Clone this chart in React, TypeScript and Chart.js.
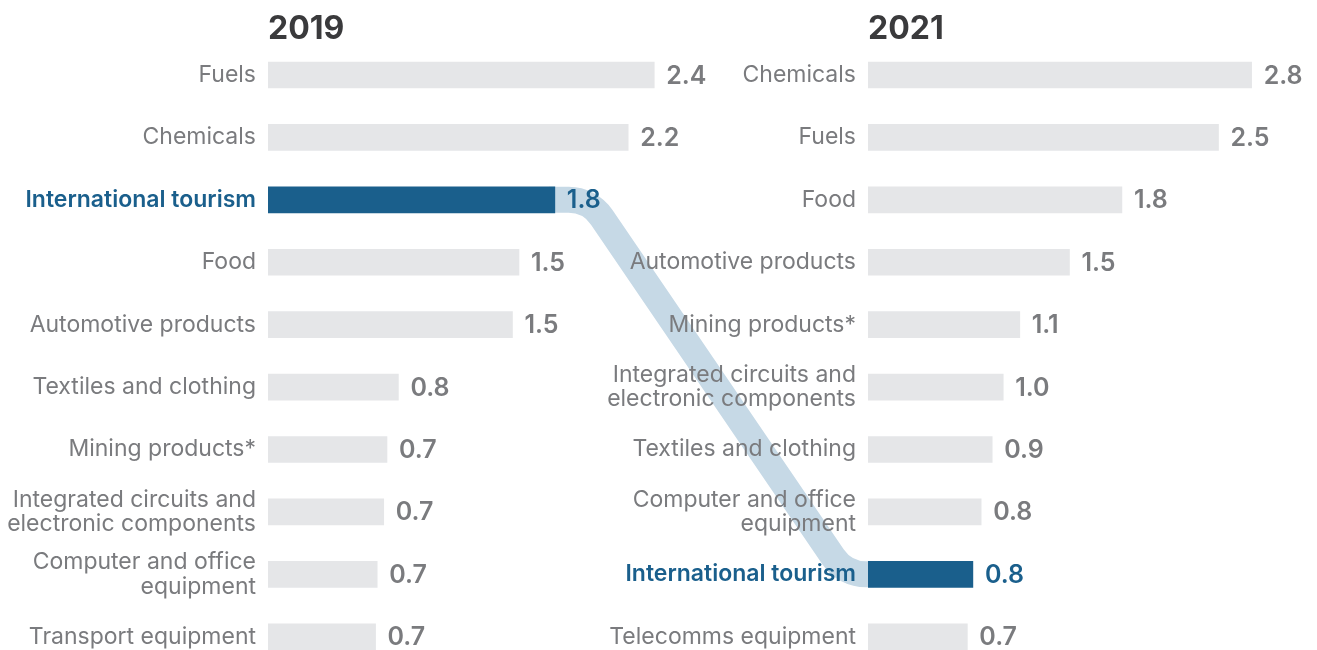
import React, { useEffect, useRef } from "react";
import { Chart, registerables } from "chart.js";

Chart.register(...registerables);

const highlight = "International tourism";

const titleLeft = "2019";
const categoriesLeft: (string | string[])[] = [
  "Fuels",
  "Chemicals",
  "International tourism",
  "Food",
  "Automotive products",
  "Textiles and clothing",
  "Mining products*",
  ["Integrated circuits and", "electronic components"],
  ["Computer and office", "equipment"],
  "Transport equipment",
];
const valuesLeft = [2.37, 2.21, 1.76, 1.54, 1.5, 0.8, 0.73, 0.71, 0.67, 0.66];

const titleRight = "2021";
const categoriesRight: (string | string[])[] = [
  "Chemicals",
  "Fuels",
  "Food",
  "Automotive products",
  "Mining products*",
  ["Integrated circuits and", "electronic components"],
  "Textiles and clothing",
  ["Computer and office", "equipment"],
  "International tourism",
  "Telecomms equipment",
];
const valuesRight = [2.78, 2.54, 1.84, 1.46, 1.1, 0.98, 0.9, 0.82, 0.76, 0.72];

const BLUE = "#1a5f8c";
const GREY_BAR = "#e5e6e8";
const GREY_TEXT = "#7a7b7e";
const TITLE_COLOR = "#3a3a3c";
const RIBBON = "#c6d9e6";
const FONT = "Inter, 'Noto Sans', sans-serif";

const W = 1317;
const H = 650;
const CANVAS_H = 700;
const LEFT_OFF = 0;
const LEFT_W = 720;
const RIGHT_OFF = 600;
const RIGHT_W = 717;

const isHi = (c: string | string[]) => c === highlight;

const valueLabels = {
  id: "valueLabels",
  afterDatasetsDraw(chart: any) {
    const { ctx } = chart;
    const meta = chart.getDatasetMeta(0);
    const cats = chart.data.labels as (string | string[])[];
    const vals = chart.data.datasets[0].data as number[];
    ctx.save();
    ctx.font = `600 25px ${FONT}`;
    ctx.textBaseline = "middle";
    ctx.textAlign = "left";
    meta.data.forEach((bar: any, i: number) => {
      ctx.fillStyle = isHi(cats[i]) ? BLUE : GREY_TEXT;
      ctx.fillText(vals[i].toFixed(1), bar.x + 12, bar.y + 1);
    });
    ctx.restore();
  },
};

function makeConfig(title: string, cats: (string | string[])[], vals: number[], xMax: number, padRight: number): any {
  return {
    type: "bar",
    data: {
      labels: cats,
      datasets: [
        {
          data: vals,
          backgroundColor: cats.map((c) => (isHi(c) ? BLUE : GREY_BAR)),
          borderWidth: 0,
          barThickness: 26,
        },
      ],
    },
    options: {
      indexAxis: "y",
      responsive: false,
      animation: false,
      layout: { padding: { top: 0, right: padRight, bottom: 32, left: 0 } },
      plugins: {
        legend: { display: false },
        tooltip: { enabled: false },
        title: {
          display: true,
          text: title,
          align: "start",
          fullSize: false,
          color: TITLE_COLOR,
          font: { family: FONT, size: 32, weight: "bold", lineHeight: 0.9 },
          padding: { top: 15, bottom: 0 },
        },
      },
      scales: {
        x: { min: 0, max: xMax, display: false },
        y: {
          grid: { display: false, drawTicks: false },
          border: { display: false },
          ticks: {
            autoSkip: false,
            padding: 12,
            color: (ctx: any) => (isHi(cats[ctx.index]) ? BLUE : GREY_TEXT),
            font: (ctx: any) => ({
              family: FONT,
              size: 23,
              weight: isHi(cats[ctx.index]) ? "600" : "normal",
              lineHeight: 1.07,
            }),
          },
          afterFit: (s: any) => {
            s.width = 268;
          },
        },
      },
    },
    plugins: [valueLabels],
  };
}

export default function App() {
  const leftRef = useRef<HTMLCanvasElement>(null);
  const rightRef = useRef<HTMLCanvasElement>(null);
  const ribbonRef = useRef<HTMLCanvasElement>(null);

  useEffect(() => {
    const chartL = new Chart(leftRef.current!, makeConfig(titleLeft, categoriesLeft, valuesLeft, 2.712, 10));
    const chartR = new Chart(rightRef.current!, makeConfig(titleRight, categoriesRight, valuesRight, 3.203, 7));

    const rc = ribbonRef.current!;
    const dpr = window.devicePixelRatio || 1;
    rc.width = W * dpr;
    rc.height = H * dpr;
    const c = rc.getContext("2d")!;
    c.setTransform(dpr, 0, 0, dpr, 0, 0);
    c.clearRect(0, 0, W, H);

    const iL = categoriesLeft.findIndex(isHi);
    const iR = categoriesRight.findIndex(isHi);
    const xL: any = chartL.scales.x;
    const yL: any = chartL.scales.y;
    const xR: any = chartR.scales.x;
    const yR: any = chartR.scales.y;
    const x1 = LEFT_OFF + xL.getPixelForValue(valuesLeft[iL]);
    const y1 = yL.getPixelForValue(iL);
    const x2 = RIGHT_OFF + xR.getPixelForValue(0);
    const y2 = yR.getPixelForValue(iR);

    c.strokeStyle = RIBBON;
    c.lineWidth = 26;
    c.lineCap = "butt";
    c.lineJoin = "round";
    c.beginPath();
    c.moveTo(x1 - 6, y1);
    c.arcTo(x1 + 35, y1, x2 - 23, y2, 40);
    c.arcTo(x2 - 23, y2, x2 + 6, y2, 40);
    c.lineTo(x2 + 6, y2);
    c.stroke();

    return () => {
      chartL.destroy();
      chartR.destroy();
    };
  }, []);

  return (
    <div
      style={{
        position: "absolute",
        left: 0,
        top: 0,
        width: W,
        height: H,
        overflow: "hidden",
        background: "#ffffff",
      }}
    >
      <canvas
        ref={ribbonRef}
        style={{ position: "absolute", left: 0, top: 0, width: W, height: H, zIndex: 0 }}
      />
      <canvas
        ref={leftRef}
        width={LEFT_W}
        height={CANVAS_H}
        style={{ position: "absolute", left: LEFT_OFF, top: 0, zIndex: 1 }}
      />
      <canvas
        ref={rightRef}
        width={RIGHT_W}
        height={CANVAS_H}
        style={{ position: "absolute", left: RIGHT_OFF, top: 0, zIndex: 2 }}
      />
    </div>
  );
}
